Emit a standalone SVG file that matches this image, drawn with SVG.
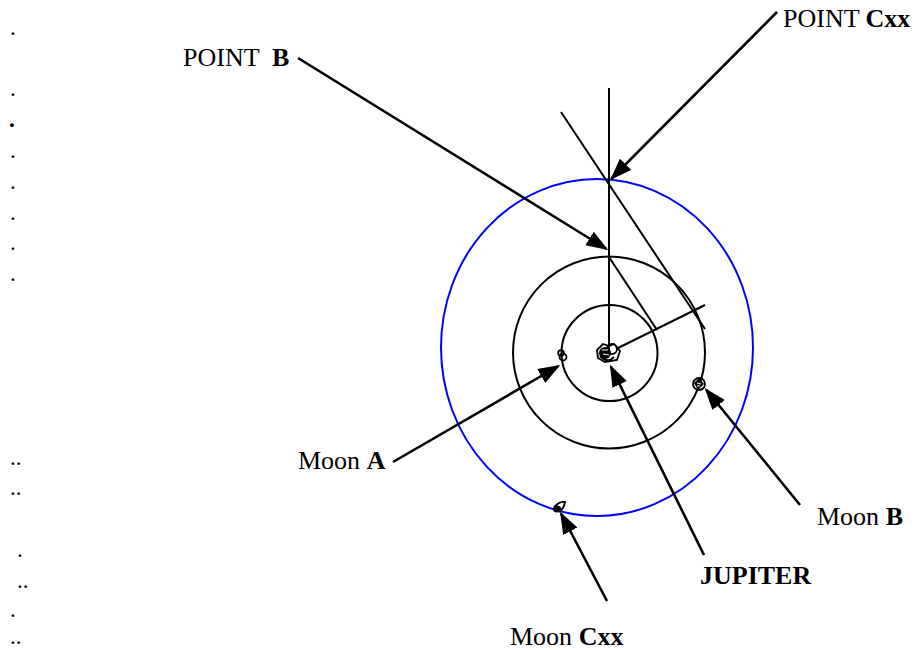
<svg xmlns="http://www.w3.org/2000/svg" width="916" height="650" viewBox="0 0 916 650">
<defs>
<style>
.t{font-family:"Liberation Serif","Times New Roman",serif;font-size:26px;fill:#000}
.d{font-size:23px}
.b{font-weight:bold}
.orb{fill:none;stroke:#000;stroke-width:2}
.thin{fill:none;stroke:#000;stroke-width:2}
.arr{fill:none;stroke:#000;stroke-width:2.6;marker-end:url(#ah)}
.blob{fill:none;stroke:#000;stroke-width:1.8}
</style>
<marker id="ah" markerUnits="userSpaceOnUse" markerWidth="24" markerHeight="18" refX="20" refY="8" orient="auto">
<path d="M0,0 L22,8 L0,16 Z" fill="#000"/>
</marker>
</defs>
<rect width="916" height="650" fill="#fff"/>
<g id="margin-dots" class="t d">
<text x="10" y="35">.</text>
<text x="10" y="96">.</text>
<text x="9" y="127" class="b">.</text>
<text x="10" y="158">.</text>
<text x="10" y="189">.</text>
<text x="10" y="220">.</text>
<text x="10" y="250">.</text>
<text x="10" y="281">.</text>
<text x="10" y="465">..</text>
<text x="10" y="495">..</text>
<text x="17" y="557">.</text>
<text x="17" y="588">..</text>
<text x="10" y="617">.</text>
<text x="10" y="644">..</text>
</g>
<g id="orbits">
<ellipse id="orbit-c" cx="597" cy="347.5" rx="156" ry="168.5" fill="none" stroke="#0000ff" stroke-width="2"/>
<circle id="orbit-b" class="orb" cx="609" cy="352.5" r="96"/>
<circle id="orbit-a" class="orb" cx="609.5" cy="353" r="48"/>
</g>
<g id="construction-lines">
<line class="thin" x1="609" y1="88" x2="609" y2="350"/>
<line class="thin" x1="561" y1="112" x2="705" y2="329"/>
<line class="thin" x1="609" y1="257" x2="657" y2="330"/>
<line class="thin" x1="616" y1="349" x2="705" y2="305"/>
</g>
<g id="jupiter">
<path class="blob" d="M597,350 L603,344 L609,346 L614,344 L620,351 L617,360 L605,362 L598,358 Z"/>
<circle class="blob" cx="612" cy="349" r="5"/>
<circle cx="605" cy="353" r="6" fill="#000"/>
<path class="blob" d="M600,356 Q607,364 614,357"/>
<path d="M602,350 L608,350 M603,354 L609,355" stroke="#fff" stroke-width="1"/>
</g>
<g id="moon-a">
<circle class="blob" cx="563" cy="357" r="3.5"/>
<circle class="blob" cx="561" cy="353" r="2.8"/>
</g>
<g id="moon-b">
<circle class="blob" cx="699" cy="384" r="6"/>
<path d="M694,383 L699,378 L704,384 L698,390 Z" fill="#000"/>
<path d="M697,383 L701,384 M697,386 L700,386" stroke="#fff" stroke-width="1"/>
</g>
<g id="moon-cxx">
<ellipse cx="557" cy="509" rx="4" ry="3.5" fill="#000"/>
<path class="blob" d="M554,507 Q560,501 565,502 Q564,509 559,512"/>
</g>
<g id="connectors">
<line class="arr" x1="298" y1="58" x2="606.5" y2="249"/>
<line class="arr" x1="777" y1="12" x2="611.5" y2="178.5"/>
<line class="arr" x1="393" y1="462" x2="558.5" y2="366"/>
<line class="arr" x1="704" y1="555" x2="610.8" y2="366.5"/>
<line class="arr" x1="800" y1="505" x2="706" y2="389.5"/>
<line class="arr" x1="607" y1="601" x2="561" y2="513.5"/>
</g>
<g id="labels" class="t">
<text id="label-point-b" x="183" y="66" xml:space="preserve">POINT  <tspan class="b">B</tspan></text>
<text id="label-point-cxx" x="783" y="27">POINT <tspan class="b">Cxx</tspan></text>
<text id="label-moon-a" x="298" y="469">Moon <tspan class="b">A</tspan></text>
<text id="label-moon-b" x="817" y="525">Moon <tspan class="b">B</tspan></text>
<text id="label-jupiter" x="700" y="584" class="b">JUPITER</text>
<text id="label-moon-cxx" x="510" y="645">Moon <tspan class="b">Cxx</tspan></text>
</g>
</svg>
